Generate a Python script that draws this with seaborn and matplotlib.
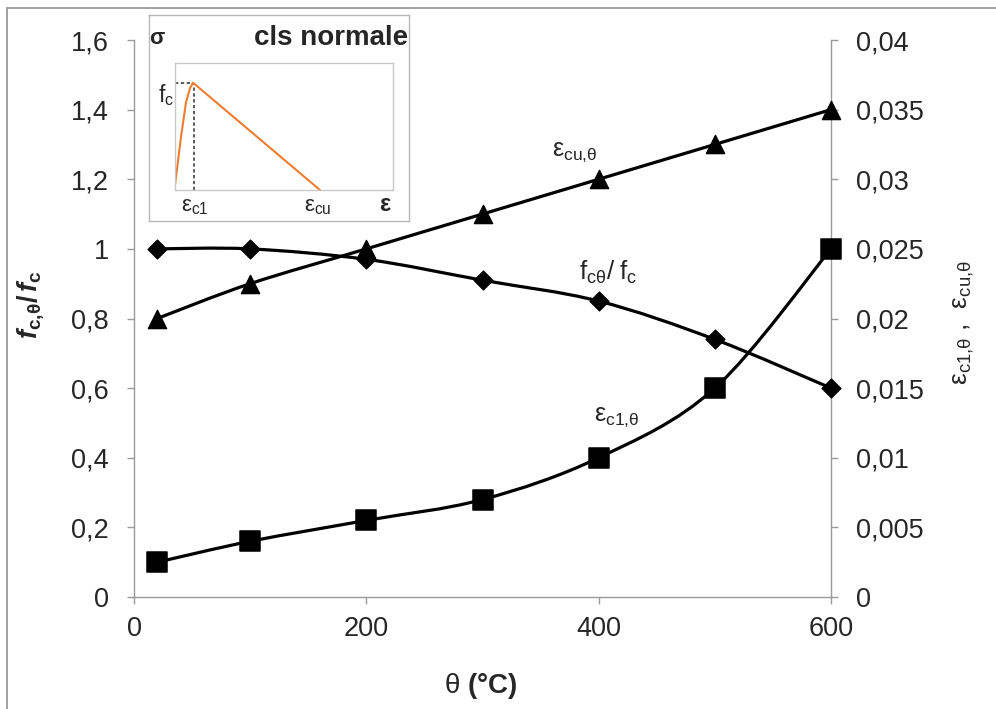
import matplotlib
matplotlib.use("Agg")
import matplotlib.pyplot as plt
import seaborn as sns
from matplotlib.path import Path
from matplotlib.patches import PathPatch
from matplotlib.lines import Line2D
from matplotlib.ticker import FixedLocator, FuncFormatter

# ---------------- data ----------------
temps = [20, 100, 200, 300, 400, 500, 600]
fc_ratio = [1.0, 1.0, 0.97, 0.91, 0.85, 0.74, 0.60]
eps_c1 = [0.0025, 0.004, 0.0055, 0.007, 0.010, 0.015, 0.025]
eps_cu = [0.020, 0.0225, 0.025, 0.0275, 0.030, 0.0325, 0.035]

x_ticks = [0, 200, 400, 600]
left_ticks = [0, 0.2, 0.4, 0.6, 0.8, 1.0, 1.2, 1.4, 1.6]
right_ticks = [0, 0.005, 0.01, 0.015, 0.02, 0.025, 0.03, 0.035, 0.04]

# inset (schematic stress-strain law, normalised box coordinates)
inset_eps = [0.0014, 0.0275, 0.05, 0.069, 0.0826, 0.665]
inset_sig = [0.055, 0.417, 0.685, 0.803, 0.845, 0.0]
inset_peak = (0.0826, 0.845)

# ---------------- style ----------------
sns.set_style("ticks")
plt.rcParams["font.family"] = ["Liberation Sans", "DejaVu Sans"]
plt.rcParams["mathtext.fontset"] = "custom"
plt.rcParams["mathtext.rm"] = "Liberation Sans"
plt.rcParams["mathtext.it"] = "Liberation Sans:italic"
plt.rcParams["mathtext.bf"] = "Liberation Sans:bold"
plt.rcParams["mathtext.bfit"] = "Liberation Sans:bold:italic"

W, H = 996, 709
fig = plt.figure(figsize=(W / 100, H / 100), dpi=100)
fig.patch.set_facecolor("white")

def fx(px):
    return px / W

def fy(py):
    return 1 - py / H

# outer frame (top and left only visible)
fig.add_artist(Line2D([fx(7), 1], [fy(8), fy(8)], transform=fig.transFigure, color="#9a9a9a", lw=1.3))
fig.add_artist(Line2D([fx(7), fx(7)], [0, fy(8)], transform=fig.transFigure, color="#9a9a9a", lw=1.3))

ax = fig.add_axes([fx(134), fy(597), fx(831) - fx(134), fy(40) - fy(597)])
ax2 = ax.twinx()
ax.set_zorder(ax2.get_zorder() + 1)

spine_col = "#9a9a9a"
for a in (ax, ax2):
    a.set_facecolor("none")
    a.spines["top"].set_visible(False)
    for s in a.spines.values():
        s.set_color(spine_col)
        s.set_linewidth(1.0)
ax.spines["right"].set_visible(False)
ax2.spines["left"].set_visible(False)
ax2.spines["bottom"].set_visible(False)

ax.set_xlim(0, 600)
ax.set_ylim(0, 1.6)
ax2.set_ylim(0, 0.04)

fmt = FuncFormatter(lambda v, _: f"{v:g}".replace(".", ","))
ax.xaxis.set_major_locator(FixedLocator(x_ticks))
ax.yaxis.set_major_locator(FixedLocator(left_ticks))
ax2.yaxis.set_major_locator(FixedLocator(right_ticks))
ax.yaxis.set_major_formatter(fmt)
ax2.yaxis.set_major_formatter(fmt)

TS = 19.5
ax.tick_params(axis="x", direction="out", length=5, width=1, color=spine_col, labelsize=TS, pad=9)
ax.tick_params(axis="y", direction="out", length=5, width=1, color=spine_col, labelsize=TS, pad=13)
ax2.tick_params(axis="y", direction="out", length=5, width=1, color=spine_col, labelsize=TS, pad=13)


def smooth_path(xs, ys):
    pts = list(zip(xs, ys))
    n = len(pts)
    verts = [pts[0]]
    codes = [Path.MOVETO]
    for i in range(n - 1):
        p0 = pts[i - 1] if i > 0 else pts[i]
        p1 = pts[i]
        p2 = pts[i + 1]
        p3 = pts[i + 2] if i + 2 < n else pts[i + 1]
        c1 = (p1[0] + (p2[0] - p0[0]) / 6, p1[1] + (p2[1] - p0[1]) / 6)
        c2 = (p2[0] - (p3[0] - p1[0]) / 6, p2[1] - (p3[1] - p1[1]) / 6)
        verts += [c1, c2, p2]
        codes += [Path.CURVE4] * 3
    return Path(verts, codes)


ax.add_patch(PathPatch(smooth_path(temps, fc_ratio), fill=False, edgecolor="black", lw=2.3, zorder=2))
ax2.add_patch(PathPatch(smooth_path(temps, eps_c1), fill=False, edgecolor="black", lw=2.3, zorder=2))
ax2.add_patch(PathPatch(smooth_path(temps, eps_cu), fill=False, edgecolor="black", lw=2.3, zorder=2))

sns.scatterplot(x=temps, y=fc_ratio, ax=ax, marker="D", s=95, color="black", edgecolor="black", zorder=3, legend=False)
sns.scatterplot(x=temps, y=eps_c1, ax=ax2, marker="s", s=190, color="black", edgecolor="black", zorder=3, legend=False)
sns.scatterplot(x=temps, y=eps_cu, ax=ax2, marker="^", s=170, color="black", edgecolor="black", zorder=3, legend=False)
for a in (ax, ax2):
    for c in a.collections:
        c.set_clip_on(False)

ax.set_xlim(0, 600)
ax.set_ylim(0, 1.6)
ax2.set_ylim(0, 0.04)

# series labels
ax.text(379.6, 1.278, r"$\mathrm{\varepsilon_{cu{,}θ}}$", fontsize=18, ha="center", va="center")
ax.text(408, 0.931, r"$\mathrm{f_{cθ}/\;f_c}$", fontsize=18.5, ha="center", va="center")
ax.text(415.8, 0.517, r"$\mathrm{\varepsilon_{c1{,}θ}}$", fontsize=18, ha="center", va="center")

# axis labels
fig.text(fx(481), fy(686), r"$\mathrm{θ}$ $\mathbf{(°C)}$", fontsize=20, ha="center", va="center")
fig.text(fx(30), fy(305), r"$\mathbfit{f}_{\mathbf{c{,}θ}}\mathbf{/}\,\mathbfit{f}_{\mathbf{c}}$",
         fontsize=19.5, ha="center", va="center", rotation=90)
fig.text(fx(964), fy(323), r"$\mathrm{\varepsilon_{c1{,}θ}}$ ,  $\mathrm{\varepsilon_{cu{,}θ}}$",
         fontsize=19, ha="center", va="center", rotation=90)

# ---------------- inset ----------------
frame = fig.add_axes([fx(149), fy(221), fx(409) - fx(149), fy(15) - fy(221)])
frame.set_zorder(5)
frame.set_facecolor("white")
frame.set_xticks([])
frame.set_yticks([])
for s in frame.spines.values():
    s.set_visible(True)
    s.set_color("#b8b8b8")
    s.set_linewidth(1.0)

ins = fig.add_axes([fx(175), fy(190), fx(393) - fx(175), fy(63) - fy(190)])
ins.set_zorder(6)
ins.set_facecolor("white")
ins.set_xlim(0, 1)
ins.set_ylim(0, 1)
ins.set_xticks([])
ins.set_yticks([])
for s in ins.spines.values():
    s.set_visible(True)
    s.set_color("#c8c8c8")
    s.set_linewidth(1.0)

ins.plot([0, inset_peak[0]], [inset_peak[1], inset_peak[1]], color="#404040", lw=1.2, ls=(0, (2, 1.5)))
ins.plot([inset_peak[0] + 0.004, inset_peak[0] + 0.004], [0, inset_peak[1]], color="#404040", lw=1.2, ls=(0, (2, 1.5)))
sns.lineplot(x=inset_eps, y=inset_sig, ax=ins, color="#ED7D31", lw=1.5, sort=False, estimator=None)
ins.set_xlim(0, 1)
ins.set_ylim(0, 1)
ins.set_xlabel("")
ins.set_ylabel("")

fig.text(fx(157), fy(38), "σ", fontsize=16, fontweight="bold", ha="center", va="center", zorder=10)
fig.text(fx(408), fy(38), "cls normale", fontsize=20, fontweight="bold", ha="right", va="center", zorder=10)
fig.text(fx(166), fy(95), r"f$_\mathrm{c}$", fontsize=16.5, ha="center", va="center", zorder=10)
fig.text(fx(195), fy(207), r"$\mathrm{\varepsilon_{c1}}$", fontsize=16, ha="center", va="center", zorder=10)
fig.text(fx(318), fy(207), r"$\mathrm{\varepsilon_{cu}}$", fontsize=16, ha="center", va="center", zorder=10)
fig.text(fx(385), fy(205), r"$\mathbf{\varepsilon}$", fontsize=17, ha="center", va="center", zorder=10)

fig.savefig("out.png", dpi=100, facecolor="white")
